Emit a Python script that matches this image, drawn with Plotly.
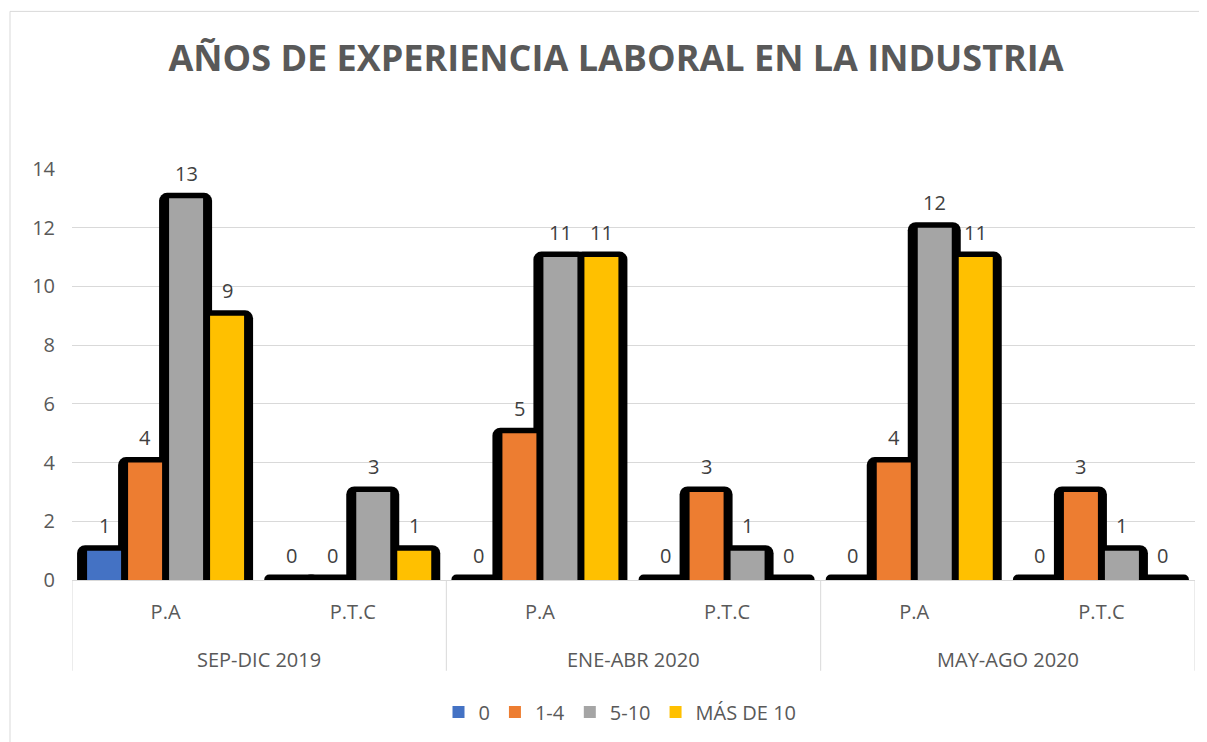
import plotly.graph_objects as go

periods = ["SEP-DIC 2019", "ENE-ABR 2020", "MAY-AGO 2020"]
types = ["P.A", "P.T.C"]
series_names = ["0", "1-4", "5-10", "MÁS DE 10"]
# values per (period, type): SEP-DIC P.A, SEP-DIC P.T.C, ENE-ABR P.A, ENE-ABR P.T.C, MAY-AGO P.A, MAY-AGO P.T.C
s_0 = [1, 0, 0, 0, 0, 0]
s_1_4 = [4, 0, 5, 3, 4, 3]
s_5_10 = [13, 3, 11, 1, 12, 1]
s_mas10 = [9, 1, 11, 0, 11, 0]
colors = ["#4472C4", "#ED7D31", "#A5A5A5", "#FFC000"]

series = [s_0, s_1_4, s_5_10, s_mas10]
n_cat = len(periods) * len(types)
cat_labels = [t for p in periods for t in types]
cat_pos = list(range(n_cat))

OFF = 8  # page body margin
W, H = 1207 - OFF, 742 - OFF
ML, MR, MT = 72 - OFF, 12, 169 - OFF
plot_bottom = 581 - OFF
MB = H - plot_bottom
plot_w = W - ML - MR
plot_h = H - MT - MB
cat_px = plot_w / n_cat
px_per_unit = plot_h / 14

slot = 41 / cat_px
cw = 34 / cat_px
sw = 53 / cat_px
shadow_extra = 5.5 / px_per_unit

FONT = "Open Sans"
TXT = "#595959"
fig = go.Figure()

# shadows
for i, vals in enumerate(series):
    c = (i - 1.5) * slot
    fig.add_trace(go.Bar(
        x=cat_pos, y=[v + shadow_extra for v in vals],
        offset=c - sw / 2 - 0.5 / cat_px, width=sw,
        marker=dict(color="black", cornerradius=8, line=dict(width=0)),
        showlegend=False, hoverinfo="skip",
    ))

# coloured bars
for i, vals in enumerate(series):
    c = (i - 1.5) * slot
    fig.add_trace(go.Bar(
        x=cat_pos, y=vals, name=series_names[i],
        offset=c - cw / 2, width=cw,
        marker=dict(color=colors[i], line=dict(width=0)),
    ))

annotations = []
for i, vals in enumerate(series):
    c = (i - 1.5) * slot
    for k, v in enumerate(vals):
        annotations.append(dict(
            x=k + c, y=v, xref="x", yref="y", text=str(v), showarrow=False,
            yshift=25, font=dict(size=20, color="#404040", family=FONT),
        ))

ntype = len(types)
for j, p in enumerate(periods):
    annotations.append(dict(
        x=j * ntype + (ntype - 1) / 2, y=0, xref="x", yref="y", text=p, showarrow=False,
        yshift=-79, font=dict(size=20, color=TXT, family=FONT),
    ))

shapes = [dict(type="rect", xref="paper", yref="paper",
               x0=(10 - 72) / plot_w, x1=1.2, y0=-1, y1=(581 - 11) / plot_h,
               line=dict(color="#d9d9d9", width=1), layer="below")]
for j in range(len(periods) + 1):
    xb = j * ntype - 0.5
    shapes.append(dict(type="line", xref="x", yref="paper", x0=xb, x1=xb,
                       y0=0, y1=-91 / plot_h, line=dict(color="#d9d9d9", width=1)))

fig.update_layout(
    width=W, height=H,
    margin=dict(l=ML, r=MR, t=MT, b=MB),
    paper_bgcolor="white", plot_bgcolor="white",
    barmode="overlay",
    font=dict(family=FONT, color=TXT),
    title=dict(text="<b>AÑOS DE EXPERIENCIA LABORAL EN LA INDUSTRIA</b>",
               x=(616 - OFF) / W, xanchor="center", y=1 - (58 - OFF) / H, yanchor="middle",
               font=dict(size=36, color=TXT, family=FONT)),
    legend=dict(orientation="h", x=(620 - OFF - ML) / plot_w, xanchor="center",
                y=-(712 - 581) / plot_h, yanchor="middle", itemwidth=30,
                font=dict(size=20, color=TXT), traceorder="normal"),
    annotations=annotations,
    shapes=shapes,
)
fig.update_yaxes(range=[0, 14], dtick=2, showgrid=True, gridcolor="#d9d9d9",
                 zeroline=False, tickfont=dict(size=20, color=TXT),
                 ticklabelstandoff=16)
fig.update_xaxes(range=[-0.5, n_cat - 0.5], tickvals=cat_pos, ticktext=cat_labels,
                 showgrid=False, zeroline=False, showline=True, linecolor="#d9d9d9",
                 ticks="", ticklabelstandoff=14, tickfont=dict(size=20, color=TXT))

fig.write_html("out.html")
